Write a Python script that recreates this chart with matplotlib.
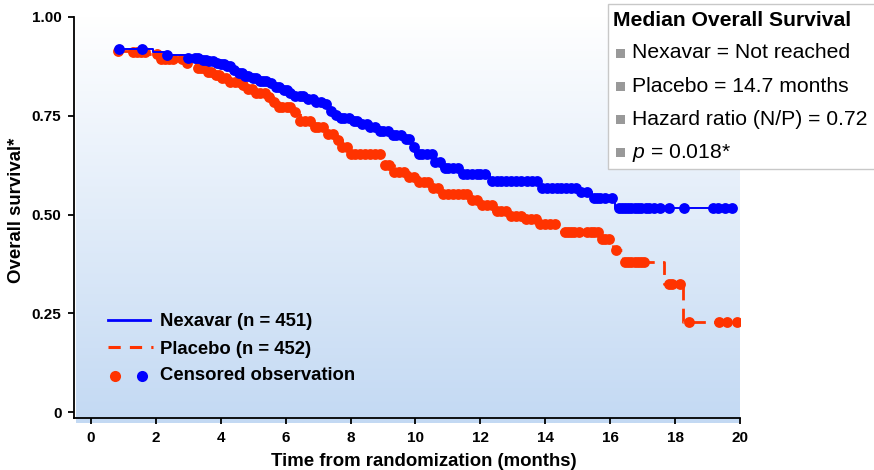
import numpy as np
import matplotlib
matplotlib.use("Agg")
import matplotlib.pyplot as plt
from matplotlib.patches import Rectangle

plt.rcParams['font.family'] = ['Liberation Sans', 'DejaVu Sans']
plt.rcParams['mathtext.fontset'] = 'custom'
plt.rcParams['mathtext.it'] = 'Liberation Sans:italic'
plt.rcParams['mathtext.rm'] = 'Liberation Sans'

# Kaplan-Meier step points (months, survival)
nex_t = [0.83, 1.9, 2.3, 2.95, 3.4, 3.6, 3.8, 4.0, 4.2, 4.35, 4.5, 4.75, 5.0, 5.2, 5.45,
         5.7, 5.9, 6.1, 6.3, 6.6, 6.9, 7.2, 7.35, 7.5, 7.65, 8.0, 8.3, 8.6, 8.9, 9.2, 9.6,
         9.85, 10.0, 10.55, 10.8, 11.4, 12.3, 13.8, 15.0, 15.45, 16.15, 19.8]
nex_s = [0.919, 0.912, 0.904, 0.897, 0.892, 0.888, 0.884, 0.880, 0.875, 0.866, 0.858, 0.851,
         0.845, 0.838, 0.832, 0.823, 0.815, 0.808, 0.800, 0.792, 0.786, 0.780, 0.762, 0.753,
         0.745, 0.738, 0.730, 0.722, 0.712, 0.702, 0.692, 0.670, 0.654, 0.632, 0.617, 0.603,
         0.586, 0.568, 0.556, 0.541, 0.517, 0.517]

plc_t = [0.83, 1.3, 1.7, 2.15, 2.9, 3.3, 3.55, 3.8, 4.05, 4.3, 4.6, 4.85, 5.1, 5.4, 5.6,
         5.8, 6.2, 6.45, 6.85, 7.2, 7.5, 7.75, 8.0, 8.95, 9.35, 9.8, 10.1, 10.45, 10.85,
         11.65, 12.0, 12.4, 12.9, 13.3, 13.75, 14.47, 15.72, 16.08, 16.4, 17.65, 18.24, 19.95]
plc_s = [0.915, 0.912, 0.906, 0.893, 0.884, 0.871, 0.862, 0.853, 0.845, 0.836, 0.827, 0.818,
         0.808, 0.798, 0.785, 0.772, 0.760, 0.737, 0.722, 0.705, 0.688, 0.672, 0.654, 0.625,
         0.608, 0.596, 0.582, 0.566, 0.553, 0.538, 0.525, 0.510, 0.497, 0.488, 0.476, 0.457,
         0.437, 0.409, 0.379, 0.323, 0.227, 0.227]

# censored observations (months)
nex_cens = [0.86, 1.58, 2.33, 2.98, 3.2, 3.3, 3.45, 3.55, 3.65, 3.75, 3.9, 4.0, 4.1, 4.2, 4.3,
            4.4, 4.55, 4.65, 4.75, 4.85, 5.0, 5.1, 5.2, 5.3, 5.4, 5.55, 5.7, 5.8, 5.95, 6.05,
            6.15, 6.3, 6.45, 6.55, 6.7, 6.85, 6.95, 7.1, 7.25, 7.4, 7.55, 7.7, 7.8, 7.95, 8.1,
            8.2, 8.35, 8.5, 8.6, 8.75, 8.9, 9.0, 9.15, 9.3, 9.4, 9.55, 9.7, 9.8, 9.95, 10.1,
            10.2, 10.35, 10.5, 10.6, 10.75, 10.9, 11.0, 11.15, 11.3, 11.45, 11.6, 11.75, 11.9,
            12.0, 12.15, 12.35, 12.5, 12.65, 12.8, 12.95, 13.1, 13.25, 13.45, 13.6, 13.75, 13.9,
            14.05, 14.2, 14.35, 14.5, 14.65, 14.8, 14.95, 15.1, 15.3, 15.5, 15.6, 15.7, 15.85,
            16.05, 16.27, 16.35, 16.45, 16.55, 16.65, 16.75, 16.85, 16.95, 17.1, 17.2, 17.35,
            17.55, 17.8, 18.27, 19.17, 19.32, 19.54, 19.75]
plc_cens = [0.83, 1.3, 1.42, 1.55, 1.68, 2.05, 2.15, 2.28, 2.4, 2.52, 2.8, 2.95, 3.3, 3.4, 3.5,
            3.6, 3.7, 3.85, 3.95, 4.05, 4.15, 4.3, 4.45, 4.55, 4.7, 4.85, 4.95, 5.1, 5.2, 5.35,
            5.5, 5.65, 5.8, 5.9, 6.05, 6.15, 6.3, 6.45, 6.6, 6.75, 6.9, 7.0, 7.15, 7.3, 7.45,
            7.6, 7.75, 7.9, 8.0, 8.15, 8.3, 8.45, 8.6, 8.75, 8.9, 9.05, 9.2, 9.35, 9.5, 9.65,
            9.8, 9.95, 10.1, 10.25, 10.4, 10.55, 10.7, 10.85, 11.0, 11.15, 11.3, 11.45, 11.6,
            11.75, 11.9, 12.05, 12.2, 12.35, 12.5, 12.65, 12.8, 12.95, 13.1, 13.25, 13.4, 13.55,
            13.7, 13.85, 14.0, 14.15, 14.3, 14.6, 14.7, 14.8, 14.9, 15.05, 15.3, 15.4, 15.5,
            15.62, 15.75, 15.85, 15.95, 16.17, 16.45, 16.55, 16.65, 16.75, 16.85, 16.95, 17.05,
            17.8, 17.9, 18.15, 18.42, 19.35, 19.6, 19.9]

legend_lines = ['Nexavar = Not reached', 'Placebo = 14.7 months',
                'Hazard ratio (N/P) = 0.72', r'$\it{p}$ = 0.018*']

BLUE = '#0000ff'
RED = '#ff3300'


def step_at(t, ts, ss):
    i = np.searchsorted(ts, t, side='right') - 1
    return np.asarray(ss)[np.clip(i, 0, len(ss) - 1)]


fig = plt.figure(figsize=(8.74, 4.70), dpi=100)
ax = fig.add_axes([74/874, 1-418/470, (740-74)/874, (418-17)/470])
ax.set_xlim(-0.52, 20)
ax.set_ylim(-0.015, 1.0)

# gradient background
grad = np.linspace(0, 1, 256)[:, None]
top = np.array([1.0, 1.0, 1.0])
bot = np.array([195, 217, 243]) / 255
img = (top + (bot - top) * grad[..., None]) * np.ones((256, 2, 3))
ax.imshow(img, extent=[-0.45, 20, -0.028, 1.0], aspect='auto', origin='upper',
          zorder=0, clip_on=False, interpolation='bilinear')
ax.set_facecolor('none')

ax.plot(plc_t, plc_s, drawstyle='steps-post', color=RED, lw=2, dashes=(5, 3), zorder=3)
ax.plot(nex_t, nex_s, drawstyle='steps-post', color=BLUE, lw=1.4, zorder=4)
ax.plot(plc_cens, step_at(plc_cens, plc_t, plc_s), 'o', color=RED, ms=7.8, mew=0, zorder=3)
ax.plot(nex_cens, step_at(nex_cens, nex_t, nex_s), 'o', color=BLUE, ms=7.8, mew=0, zorder=4)

for s in ['top', 'right']:
    ax.spines[s].set_visible(False)
for s in ['left', 'bottom']:
    ax.spines[s].set_linewidth(1.3)
ax.set_xticks(range(0, 21, 2))
ax.set_yticks([0, 0.25, 0.5, 0.75, 1.0])
ax.set_yticklabels(['0', '0.25', '0.50', '0.75', '1.00'])
ax.tick_params(direction='out', length=4, width=1.3, labelsize=11, pad=5)
for lab in ax.get_xticklabels() + ax.get_yticklabels():
    lab.set_fontweight('bold')
fig.text(424/874, 1-462/470, 'Time from randomization (months)', ha='center', va='center',
         fontsize=13.4, fontweight='bold')
fig.text(17/874, 1-210/470, 'Overall survival*', rotation=90, ha='center', va='center',
         fontsize=13.4, fontweight='bold')

# legend (bottom left)
def fx(px):
    return (px - 74) / (740 - 74)

def fy(py):
    return (418 - py) / (418 - 17)

ax.plot([fx(108), fx(150)], [fy(320), fy(320)], color=BLUE, lw=2, transform=ax.transAxes)
ax.plot([fx(108), fx(153)], [fy(347), fy(347)], color=RED, lw=2.2, dashes=(4, 3),
        transform=ax.transAxes)
ax.plot([fx(115)], [fy(376)], 'o', color=RED, ms=8, mew=0, transform=ax.transAxes)
ax.plot([fx(142)], [fy(376)], 'o', color=BLUE, ms=8, mew=0, transform=ax.transAxes)
for py, txt in [(322, 'Nexavar (n = 451)'), (349, 'Placebo (n = 452)'),
                (376, 'Censored observation')]:
    ax.text(fx(160), fy(py), txt, transform=ax.transAxes, fontsize=13.3, fontweight='bold',
            va='center', ha='left')

# median survival box (top right)
fig.patches.append(Rectangle((608/874, 1-169/470), 0.4, 165/470, transform=fig.transFigure,
                             facecolor='white', edgecolor='#c8c8c8', lw=1, zorder=5))
fig.text(613/874, 1-20/470, 'Median Overall Survival', fontsize=15.2, fontweight='bold',
         va='center', ha='left', zorder=6)
for i, txt in enumerate(legend_lines):
    yc = 53 + i * 33.3
    fig.patches.append(Rectangle((616/874, 1-(yc+4.5)/470), 9/874, 9/470,
                                 transform=fig.transFigure, facecolor='#999999',
                                 edgecolor='none', zorder=6))
    fig.text(632/874, 1-yc/470, txt, fontsize=15.2, va='center', ha='left', zorder=6)

fig.savefig('out.png', dpi=100)
